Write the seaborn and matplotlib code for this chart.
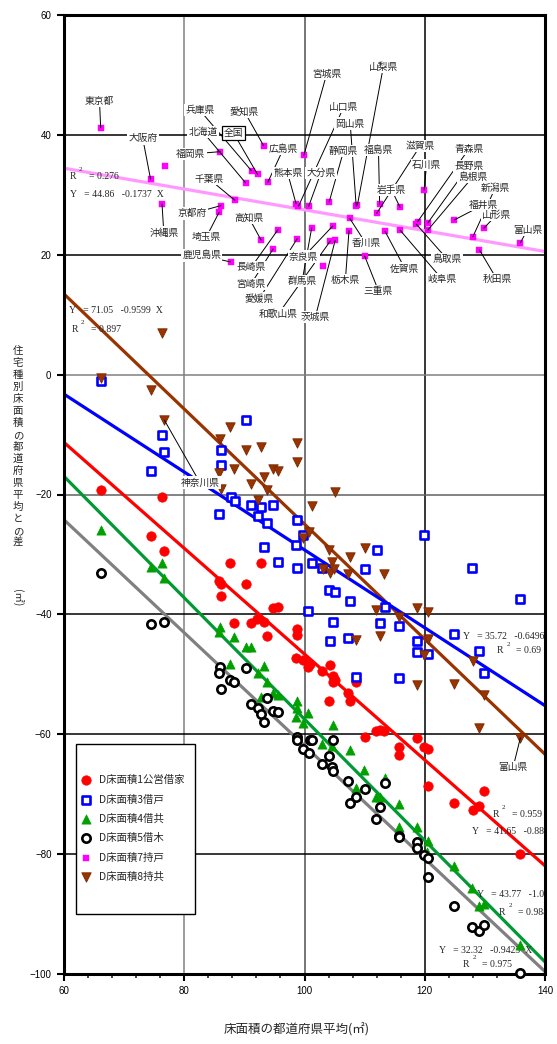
import matplotlib
matplotlib.use("Agg")
import matplotlib.pyplot as plt
import seaborn as sns
import pandas as pd
from matplotlib.ticker import MultipleLocator
from matplotlib.patches import Rectangle

# ---------------- data ----------------
# D床面積1公営借家
x1 = [66.1, 76.3, 74.4, 76.7, 87.6, 92.8, 85.8, 86.1, 86.1, 90.2, 94.7, 95.6, 88.3, 91.1,
      92.1, 93.3, 93.8, 98.8, 98.8, 98.6, 99.7, 100.5, 100.9, 102.9, 104.3, 104.8, 104.8,
      105.1, 104.1, 107.3, 107.6, 108.6, 110.0, 111.9, 112.5, 113.2, 115.8, 118.7, 119.9,
      120.6, 115.8, 120.5, 124.9, 128.0, 129.1, 129.8, 135.9]
y1 = [-19.3, -20.4, -27.0, -29.4, -31.5, -31.4, -34.4, -35.0, -37.0, -35.0, -39.0, -38.7,
      -41.4, -41.4, -40.7, -41.2, -43.6, -42.5, -43.5, -47.2, -47.6, -48.8, -48.2, -49.5,
      -48.5, -50.3, -51.3, -51.0, -54.5, -53.2, -54.5, -51.3, -60.4, -59.4, -59.3, -59.4,
      -62.2, -60.6, -62.2, -62.4, -63.4, -68.6, -71.5, -72.7, -72.0, -69.4, -80.0]

# D床面積3借戸
x3 = [66.1, 90.2, 76.3, 76.7, 74.4, 86.1, 86.1, 87.7, 88.4, 91.1, 92.8, 94.7, 85.8, 92.2,
      93.8, 98.8, 99.7, 93.3, 95.6, 98.8, 98.6, 100.5, 101.2, 102.9, 104.1, 105.1, 107.5,
      110.0, 112.0, 119.9, 127.9, 135.8, 113.4, 104.8, 112.5, 115.8, 104.3, 107.3, 118.7,
      118.7, 120.6, 124.9, 129.1, 129.8, 108.6, 115.8]
y3 = [-1.1, -7.5, -10.0, -12.9, -16.0, -12.6, -15.0, -20.4, -21.1, -21.8, -22.1, -21.8,
      -23.3, -23.6, -24.8, -24.2, -26.8, -28.8, -31.2, -32.2, -28.4, -39.4, -31.4, -32.2,
      -36.0, -36.3, -37.8, -32.5, -29.3, -26.8, -32.2, -37.5, -38.7, -41.3, -41.4, -42.0,
      -44.5, -43.9, -44.5, -46.3, -46.6, -43.2, -46.1, -49.8, -50.5, -50.6]

# D床面積4借共
x4 = [66.1, 74.4, 76.3, 76.7, 86.0, 85.8, 88.3, 90.2, 91.1, 87.6, 93.3, 92.2, 93.8, 92.8,
      94.8, 95.6, 98.8, 98.8, 98.6, 100.5, 99.7, 104.7, 102.9, 104.5, 107.5, 109.9, 108.6,
      113.4, 111.9, 112.6, 115.8, 115.8, 118.7, 120.5, 120.3, 124.9, 127.9, 129.1, 129.8,
      135.9]
y4 = [-25.9, -32.1, -31.5, -34.0, -42.1, -43.0, -43.7, -45.5, -45.5, -48.2, -48.6, -49.7,
      -51.3, -53.8, -53.2, -53.5, -54.5, -55.7, -57.1, -56.5, -58.1, -58.4, -61.6, -61.9,
      -62.7, -65.9, -68.9, -67.3, -70.4, -70.4, -71.6, -75.5, -75.5, -77.8, -79.7, -81.9,
      -85.6, -88.6, -88.4, -95.1]

# D床面積5借木
x5 = [66.1, 74.4, 76.7, 86.0, 85.8, 86.1, 87.6, 88.3, 90.2, 91.1, 92.2, 92.8, 93.3, 93.8,
      94.8, 95.6, 98.8, 98.8, 99.7, 100.9, 100.8, 101.2, 104.8, 102.9, 104.1, 104.5, 104.8,
      107.3, 107.5, 108.6, 110.0, 113.4, 111.9, 112.5, 115.8, 115.8, 118.7, 118.7, 119.9,
      120.5, 120.5, 124.9, 127.9, 129.1, 129.8, 135.8]
y5 = [-33.1, -41.6, -41.2, -48.7, -49.7, -52.5, -50.9, -51.3, -48.9, -55.0, -55.7, -56.6,
      -58.0, -54.0, -56.1, -56.3, -60.5, -60.9, -62.4, -60.9, -63.2, -61.0, -61.0, -65.0,
      -63.7, -65.4, -66.2, -67.8, -71.5, -70.4, -69.2, -68.2, -74.2, -72.2, -76.9, -77.1,
      -78.0, -79.0, -80.2, -80.6, -83.8, -88.6, -92.2, -92.9, -91.8, -99.8]

# D床面積7持戸 (labelled by prefecture)
names7 = ['東京都', '神奈川県', '大阪府', '沖縄県', '福岡県', '京都府', '埼玉県', '千葉県',
          '鹿児島県', '北海道', '兵庫県', '全国', '愛知県', '広島県', '高知県', '長崎県',
          '宮崎県', '愛媛県', '熊本県', '山口県', '宮城県', '大分県', '群馬県', '静岡県',
          '奈良県', '和歌山県', '茨城県', '栃木県', '香川県', '岡山県', '山梨県', '三重県',
          '福島県', '滋賀県', '佐賀県', '岩手県', '岐阜県', '石川県', '青森県', '鳥取県',
          '長野県', '島根県', '福井県', '新潟県', '山形県', '秋田県', '富山県', '徳島県']
x7 = [66.1, 76.8, 74.4, 76.3, 86.0, 86.1, 85.8, 88.4, 87.7, 90.2, 91.2, 92.2, 93.2, 93.9,
      92.8, 95.6, 94.8, 98.8, 98.6, 99.0, 99.9, 100.7, 101.2, 104.1, 104.7, 104.3, 105.1,
      107.4, 107.5, 108.6, 108.8, 110.0, 112.5, 112.0, 113.4, 115.9, 115.9, 119.9, 118.8,
      118.6, 120.5, 120.5, 124.9, 128.0, 129.8, 129.1, 135.9, 103.0]
y7 = [41.2, 34.8, 32.6, 28.5, 37.2, 28.2, 27.1, 29.1, 18.8, 32.0, 34.0, 33.4, 38.2, 32.1,
      22.4, 24.2, 21.0, 22.7, 28.5, 28.1, 36.6, 28.1, 24.5, 28.8, 24.8, 22.3, 22.4, 24.0,
      26.1, 28.1, 28.3, 19.8, 28.4, 26.9, 23.9, 27.9, 24.1, 30.8, 25.5, 25.1, 25.3, 24.1,
      25.8, 23.0, 24.4, 20.8, 22.0, 18.1]

# D床面積8持共
x8 = [66.1, 76.3, 74.4, 76.7, 86.0, 87.6, 90.2, 92.7, 85.8, 88.3, 93.3, 94.8, 95.6, 91.1,
      93.8, 86.1, 98.8, 98.8, 92.2, 105.1, 101.2, 99.8, 100.8, 104.1, 107.5, 110.0, 104.6,
      103.0, 104.3, 104.9, 107.3, 113.3, 111.9, 115.8, 118.7, 120.5, 112.5, 108.6, 120.5,
      119.9, 118.7, 124.9, 128.0, 129.8, 129.1, 135.9]
y8 = [-0.5, 6.9, -2.6, -7.6, -10.8, -8.8, -12.5, -12.0, -16.4, -15.7, -17.0, -15.8, -16.1,
      -18.2, -19.3, -19.0, -11.4, -14.5, -21.0, -19.6, -22.0, -27.2, -26.3, -29.2, -30.5,
      -28.9, -31.2, -32.4, -33.1, -32.4, -33.3, -33.3, -39.2, -40.4, -39.0, -39.6, -43.6,
      -44.2, -44.1, -46.7, -51.7, -51.6, -47.8, -53.5, -59.0, -60.6]

# fitted lines: (intercept, slope, R^2)
fit1 = (41.65, -0.8828, 0.959)
fit3 = (35.72, -0.6496, 0.69)
fit4 = (43.77, -1.0125, 0.984)
fit5 = (32.32, -0.9423, 0.975)
fit7 = (44.86, -0.1737, 0.276)
fit8 = (71.05, -0.9599, 0.897)

legend_labels = ['D床面積1公営借家', 'D床面積3借戸', 'D床面積4借共',
                 'D床面積5借木', 'D床面積7持戸', 'D床面積8持共']

# label positions for prefecture names (data coords)
label_pos = {
    '東京都': (65.9, 45.7), '大阪府': (73.1, 39.4), '沖縄県': (76.6, 23.7),
    '兵庫県': (82.6, 44.1), '北海道': (83.1, 40.5), '全国': (88.2, 40.3),
    '愛知県': (90.0, 43.9), '福岡県': (81.1, 36.8), '広島県': (96.5, 37.7),
    '千葉県': (84.2, 32.6), '京都府': (81.4, 26.9), '埼玉県': (83.7, 23.0),
    '鹿児島県': (82.9, 19.9), '高知県': (90.8, 26.1), '長崎県': (91.2, 18.0),
    '宮崎県': (91.1, 15.1), '愛媛県': (92.5, 12.7), '和歌山県': (95.7, 10.2),
    '群馬県': (99.6, 15.6), '茨城県': (101.8, 9.6), '奈良県': (99.9, 19.7),
    '熊本県': (97.2, 33.6), '大分県': (102.7, 33.6), '静岡県': (106.5, 37.3),
    '宮城県': (103.7, 50.2), '山梨県': (113.1, 51.3), '山口県': (106.5, 44.6),
    '岡山県': (107.6, 41.9), '福島県': (112.3, 37.5), '滋賀県': (119.2, 38.1),
    '石川県': (120.3, 35.0), '岩手県': (114.5, 30.8), '青森県': (127.3, 37.6),
    '長野県': (127.3, 34.8), '島根県': (128.0, 33.0), '新潟県': (131.7, 31.1),
    '福井県': (129.7, 28.3), '山形県': (131.9, 26.6), '富山県': (137.1, 24.2),
    '香川県': (110.2, 21.9), '栃木県': (106.8, 15.8), '三重県': (112.3, 14.0),
    '佐賀県': (116.7, 17.7), '岐阜県': (122.9, 15.9), '鳥取県': (123.7, 19.3),
    '秋田県': (132.0, 15.9),
}
# names attached to D床面積8持共 points: (name, label position, point)
labels8 = [('神奈川県', (82.6, -18.0), (76.7, -7.6)),
           ('富山県', (134.7, -65.5), (135.9, -60.6))]

# ---------------- style ----------------
sns.set_style('white')
plt.rcParams['font.family'] = ['Liberation Sans', 'Noto Sans CJK JP']
JP = ['Noto Sans CJK JP', 'DejaVu Sans']
SERIF = ['Liberation Serif', 'DejaVu Serif']

fig = plt.figure(figsize=(5.57, 10.44), dpi=100)
ax = fig.add_axes([64 / 557, 1 - 974 / 1044, (545 - 64) / 557, (974 - 15) / 1044])

# regression lines
line_specs = [(fit8, '#993300'), (fit3, '#0000ff'), (fit1, '#ff0000'),
              (fit4, '#009933'), (fit5, '#808080'), (fit7, '#ff99ff')]
xs = [60, 140]
for (a, b, r2), col in line_specs:
    sns.lineplot(x=xs, y=[a + b * v for v in xs], ax=ax, color=col, lw=2.3,
                 zorder=2, legend=False)

# scatter series
ser = [
    (x1, y1, dict(marker='o', s=46, color='#ff0000', edgecolor='#ff0000', linewidth=0.5)),
    (x3, y3, dict(marker='s', s=36, facecolor='white', edgecolor='#0000ff', linewidth=1.9)),
    (x4, y4, dict(marker='^', s=44, color='#00a000', edgecolor='#00a000', linewidth=0.5)),
    (x5, y5, dict(marker='o', s=36, facecolor='white', edgecolor='black', linewidth=1.9)),
    (x7, y7, dict(marker='s', s=20, color='#ff00ff', edgecolor='#ff00ff', linewidth=0.3)),
    (x8, y8, dict(marker='v', s=46, color='#993300', edgecolor='#7a2800', linewidth=0.6)),
]
handles = []
for (xv, yv, kw), lab in zip(ser, legend_labels):
    df = pd.DataFrame({'x': xv, 'y': yv})
    sns.scatterplot(data=df, x='x', y='y', ax=ax, zorder=4, clip_on=False,
                    legend=False, **kw)
    handles.append(ax.collections[-1])

# axes setup
ax.set_xlim(60, 140)
ax.set_ylim(-100, 60)
ax.set_xticks([60, 80, 100, 120, 140])
ax.set_yticks(list(range(-100, 61, 20)))
ax.xaxis.set_minor_locator(MultipleLocator(4))
ax.yaxis.set_minor_locator(MultipleLocator(4))
ax.tick_params(which='major', direction='out', length=5, width=1.5, labelsize=7,
               pad=4, colors='black')
ax.tick_params(which='minor', direction='out', length=3, width=1.2)
ax.tick_params(bottom=True, left=True, top=False, right=False)
ax.tick_params(axis='x', which='both', bottom=True)
for sp in ax.spines.values():
    sp.set_linewidth(2.2)
    sp.set_color('black')
ax.set_xlabel('')
ax.set_ylabel('')

ax.grid(True, which='major', lw=1.1)
ax.set_axisbelow(True)
xgrid_cols = {60: '#000000', 80: '#808080', 100: '#505050', 120: '#000000', 140: '#000000'}
ygrid_cols = {60: '#000000', 40: '#000000', 20: '#000000', 0: '#808080', -20: '#606060',
              -40: '#000000', -60: '#000000', -80: '#000000', -100: '#000000'}
for gl, v in zip(ax.get_xgridlines(), ax.get_xticks()):
    gl.set_color(xgrid_cols.get(int(round(v)), 'black'))
for gl, v in zip(ax.get_ygridlines(), ax.get_yticks()):
    gl.set_color(ygrid_cols.get(int(round(v)), 'black'))

# prefecture labels with leader lines
lab_kw = dict(fontsize=7, family=JP, ha='center', va='center', zorder=6,
              bbox=dict(boxstyle='square,pad=0.12', fc='white', ec='none'))
for name, px, py in zip(names7, x7, y7):
    if name not in label_pos:
        continue
    lx, ly = label_pos[name]
    ax.plot([lx, px], [ly, py], color='black', lw=0.7, zorder=5)
    if name == '全国':
        kw = dict(lab_kw)
        kw['bbox'] = dict(boxstyle='square,pad=0.2', fc='white', ec='black', lw=0.9)
        ax.text(lx, ly, name, **kw)
    else:
        ax.text(lx, ly, name, **lab_kw)
for name, (lx, ly), (px, py) in labels8:
    ax.plot([lx, px], [ly, py], color='black', lw=0.7, zorder=5)
    ax.text(lx, ly, name, **lab_kw)

# regression equations (clipped by the plot frame on the right)
def equation(fit, ypos, rpos, sup):
    a, b, r2 = fit
    ax.text(ypos[0], ypos[1], f'Y   = {a:.2f}   {b:.4g}  X', fontsize=7, family=SERIF,
            va='center', ha='left', zorder=3, clip_on=True)
    ax.text(rpos[0], rpos[1], f'R     = {r2:g}', fontsize=7, family=SERIF,
            va='center', ha='left', zorder=3, clip_on=True)
    ax.text(sup[0], sup[1], '2', fontsize=5, family=SERIF, va='center', ha='left',
            zorder=3, clip_on=True)

equation(fit7, (61.0, 30.1), (61.0, 33.0), (62.5, 34.2))
equation(fit8, (60.9, 10.75), (61.3, 7.5), (62.8, 8.7))
equation(fit3, (126.4, -43.7), (132.0, -46.1), (133.6, -45.0))
equation(fit1, (127.8, -76.2), (131.3, -73.4), (132.8, -72.3))
equation(fit4, (128.7, -86.7), (132.4, -89.7), (134.0, -88.6))
equation(fit5, (122.4, -96.0), (126.4, -98.4), (128.0, -97.3))

# legend
leg = ax.legend(handles=handles, labels=legend_labels, loc='upper left',
                bbox_to_anchor=(0.035, 0.2075), frameon=False,
                prop={'family': JP, 'size': 7.5},
                handlelength=1.0, handletextpad=0.75, labelspacing=0.88, borderaxespad=0,
                borderpad=0)
leg.set_zorder(8)
ax.add_patch(Rectangle((0.025, 0.0626), 0.248, 0.177, transform=ax.transAxes,
                       fc='white', ec='black', lw=1.0, zorder=7))

# axis titles
fig.text(297 / 557, 1 - 1030 / 1044, '床面積の都道府県平均(㎡)', fontsize=9, family=JP,
         ha='center', va='center')
fig.text(18 / 557, 1 - 346 / 1044, '\n'.join('住宅種別床面積の都道府県平均との差'),
         fontsize=7.5, family=JP, ha='center', va='top', linespacing=1.245)
fig.text(18 / 557, 1 - 598 / 1044, '(㎡)', fontsize=7.5, family=JP, rotation=-90,
         ha='center', va='center')

fig.savefig('out.png', dpi=100, facecolor='white')
